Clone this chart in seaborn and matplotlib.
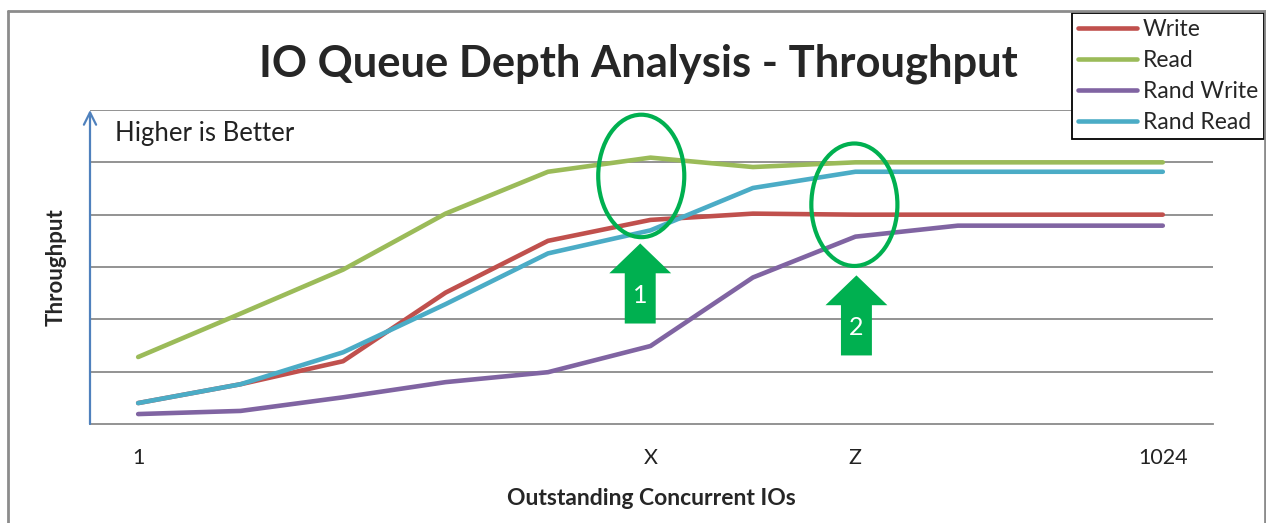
import numpy as np
import pandas as pd
import matplotlib
matplotlib.use("Agg")
import matplotlib.pyplot as plt
from matplotlib.patches import Ellipse, Polygon
from matplotlib.lines import Line2D
import seaborn as sns

# ── Data ──────────────────────────────────────────
steps = list(range(11))
tick_pos = [0, 5, 7, 10]
tick_labels = ["1", "X", "Z", "1024"]

write = [0.40, 0.76, 1.20, 2.51, 3.50, 3.90, 4.02, 4.00, 4.00, 4.00, 4.00]
read = [1.28, 2.11, 2.95, 4.02, 4.82, 5.09, 4.91, 5.00, 5.00, 5.00, 5.00]
rand_write = [0.19, 0.25, 0.51, 0.80, 0.99, 1.49, 2.80, 3.58, 3.79, 3.79, 3.79]
rand_read = [0.40, 0.76, 1.37, 2.29, 3.26, 3.70, 4.51, 4.82, 4.82, 4.82, 4.82]

series_names = ["Write", "Read", "Rand Write", "Rand Read"]
colors = ["#C0504D", "#9BBB59", "#8064A2", "#4BACC6"]

df = pd.concat([
    pd.DataFrame({"step": steps, "value": vals, "series": name})
    for name, vals in zip(series_names, [write, read, rand_write, rand_read])
])

# ── Plot ──────────────────────────────────────────
sns.set_theme(style="white")
plt.rcParams["font.family"] = ["Lato", "DejaVu Sans"]

fig = plt.figure(figsize=(12.66, 5.23), dpi=100)
ax = fig.add_axes([90 / 1266, 1 - 424 / 523, (1213 - 90) / 1266, (424 - 110) / 523])

sns.lineplot(data=df, x="step", y="value", hue="series", hue_order=series_names,
             palette=dict(zip(series_names, colors)), linewidth=3.3,
             solid_capstyle="round", ax=ax)

ax.set_xlim(-0.47, 10.49)
ax.set_ylim(0, 6)
ax.set_yticks([])
ax.set_xticks(tick_pos)
ax.set_xticklabels(tick_labels, fontsize=15.5, color="#222222")
ax.tick_params(axis="x", length=0, pad=17)
for y in range(1, 7):
    ax.axhline(y, color="#8a8a8a", lw=1.3, zorder=0)
for s in ["top", "right", "left"]:
    ax.spines[s].set_visible(False)
ax.spines["bottom"].set_color("#8a8a8a")
ax.spines["bottom"].set_linewidth(1.3)

# blue y-axis with arrow
ax.annotate("", xy=(0, 1.0), xytext=(0, 0), xycoords="axes fraction",
            arrowprops=dict(arrowstyle="->", color="#4F81BD", lw=1.6,
                            mutation_scale=22, shrinkA=0, shrinkB=0))

ax.set_xlabel("Outstanding Concurrent IOs", fontsize=16.5, fontweight="bold", labelpad=15)
ax.set_ylabel("Throughput", fontsize=16, fontweight="bold", labelpad=17)
ax.text(0.022, 0.924, "Higher is Better", transform=ax.transAxes, fontsize=18.5,
        va="center", ha="left", color="#222222")

fig.text(0.504, 0.878, "IO Queue Depth Analysis - Throughput", fontsize=31.3,
         fontweight="bold", ha="center", va="center")

# green annotations
green = "#00B050"
for cx, cy in [(4.91, 4.74), (6.99, 4.19)]:
    ax.add_patch(Ellipse((cx, cy), 0.84, 2.34, fill=False, edgecolor=green, lw=3, zorder=5))

for cx, bottom, base, tip, label in [(4.9, 1.92, 2.88, 3.45, "1"), (7.01, 1.31, 2.27, 2.84, "2")]:
    sw, hw = 0.151, 0.302
    pts = [(cx - sw, bottom), (cx + sw, bottom), (cx + sw, base), (cx + hw, base),
           (cx, tip), (cx - hw, base), (cx - sw, base)]
    ax.add_patch(Polygon(pts, closed=True, facecolor=green, edgecolor="none", zorder=5))
    ax.text(cx, (bottom + base) / 2 + 0.05, label, color="white", fontsize=18,
            ha="center", va="center", zorder=6)

# legend
handles, labels = ax.get_legend_handles_labels()
ax.legend(handles, labels, loc="upper right", bbox_to_anchor=(1264 / 1266, 1 - 13 / 523),
          bbox_transform=fig.transFigure, fontsize=16.5, frameon=True, fancybox=False,
          edgecolor="black", framealpha=1, borderaxespad=0, handlelength=2.6,
          handletextpad=0.25, labelspacing=0.44, borderpad=0.25)
ax.get_legend().get_frame().set_linewidth(1.3)

# outer frame
for xs, ys in [([8, 8], [523, 11]), ([8, 1265], [11, 11]), ([1265, 1265], [11, 523])]:
    fig.add_artist(Line2D([x / 1266 for x in xs], [1 - y / 523 for y in ys],
                          color="#8c8c8c", lw=2))

fig.savefig("out.png", dpi=100)
